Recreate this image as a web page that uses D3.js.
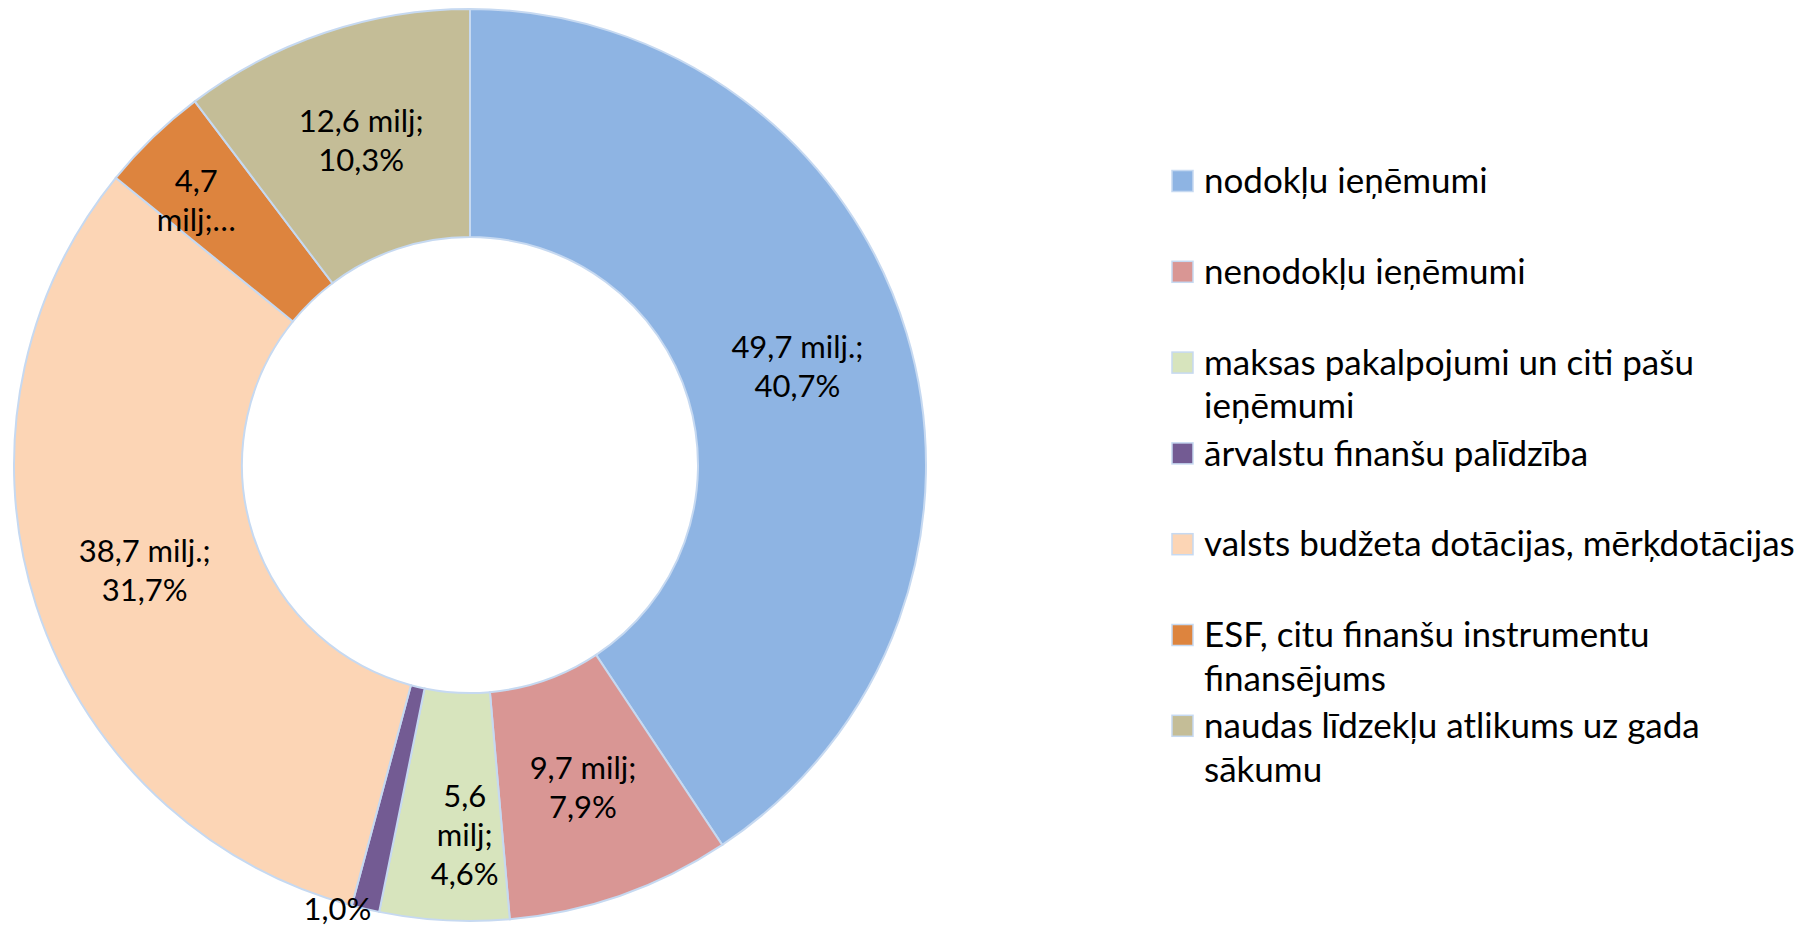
<!DOCTYPE html>
<html>
<head>
<meta charset="utf-8">
<script src="https://cdn.jsdelivr.net/npm/d3@7"></script>
<style>
  body { margin: 0; background: #fff; }
  svg text { font-family: Lato, "Open Sans", sans-serif; fill: #000; }
</style>
</head>
<body>
<div id="vis"></div>
<script>
const FRAME_WIDTH = 1810;
const FRAME_HEIGHT = 926;

// data (milj. EUR)
const categories = [
  "nodokļu ieņēmumi",
  "nenodokļu ieņēmumi",
  "maksas pakalpojumi un citi pašu ieņēmumi",
  "ārvalstu finanšu palīdzība",
  "valsts budžeta dotācijas, mērķdotācijas",
  "ESF, citu finanšu instrumentu finansējums",
  "naudas līdzekļu atlikums uz gada sākumu"
];
const values = [49.7, 9.7, 5.6, 1.2, 38.7, 4.7, 12.6];
const sliceLabels = [
  ["49,7 milj.;", "40,7%"],
  ["9,7 milj;", "7,9%"],
  ["5,6", "milj;", "4,6%"],
  ["1,0%"],
  ["38,7 milj.;", "31,7%"],
  ["4,7", "milj;…"],
  ["12,6 milj;", "10,3%"]
];
const legendLines = [
  ["nodokļu ieņēmumi"],
  ["nenodokļu ieņēmumi"],
  ["maksas pakalpojumi un citi pašu", "ieņēmumi"],
  ["ārvalstu finanšu palīdzība"],
  ["valsts budžeta dotācijas, mērķdotācijas"],
  ["ESF, citu finanšu instrumentu", "finansējums"],
  ["naudas līdzekļu atlikums uz gada", "sākumu"]
];
const colors = ["#8EB4E3", "#D99694", "#D7E4BD", "#735B93", "#FCD5B5", "#DD843E", "#C4BD97"];

const CX = 470, CY = 465;
const OUTER = 456, INNER = 228;
const BORDER = "#C6D9F1";

const svg = d3.select("#vis")
  .append("svg")
    .attr("width", FRAME_WIDTH)
    .attr("height", FRAME_HEIGHT);

const colorScale = d3.scaleOrdinal().domain(categories).range(colors);

const pie = d3.pie().sort(null).value(d => d.value);
const arcs = pie(categories.map((c, i) => ({cat: c, value: values[i], label: sliceLabels[i]})));

const arc = d3.arc().innerRadius(INNER).outerRadius(OUTER);
const edgeArc = d3.arc().innerRadius(OUTER).outerRadius(OUTER);

const g = svg.append("g").attr("transform", `translate(${CX},${CY})`);

g.selectAll("path")
  .data(arcs)
  .enter()
  .append("path")
    .attr("d", arc)
    .attr("fill", d => colorScale(d.data.cat))
    .attr("stroke", BORDER)
    .attr("stroke-width", 2);

// labels: centroid of the ring, a few nudged the way Excel placed them
const LABEL_SIZE = 31;
const LABEL_LINE = 39;
const nudge = {
  2: [14, 29],
  5: [-36, -19]
};

arcs.forEach((d, i) => {
  let [x, y] = i === 3 ? edgeArc.centroid(d) : arc.centroid(d);
  if (i === 3) x -= 28;
  if (nudge[i]) { x += nudge[i][0]; y += nudge[i][1]; }
  const lines = d.data.label;
  const t = g.append("text")
    .attr("text-anchor", "middle")
    .style("font-size", LABEL_SIZE + "px");
  lines.forEach((ln, k) => {
    t.append("tspan")
      .attr("x", x)
      .attr("y", y + (k - (lines.length - 1) / 2) * LABEL_LINE)
      .attr("dy", "0.35em")
      .text(ln);
  });
});

// legend
const LEG_X = 1172, LEG_Y = 181, LEG_STEP = 90.8, LEG_LINE = 43.5, SQ = 21;
const legend = svg.selectAll(".leg")
  .data(categories)
  .enter()
  .append("g")
    .attr("class", "leg")
    .attr("transform", (d, i) => `translate(${LEG_X},${LEG_Y + i * LEG_STEP})`);

legend.append("rect")
  .attr("x", 0)
  .attr("y", -SQ / 2)
  .attr("width", SQ)
  .attr("height", SQ)
  .attr("fill", d => colorScale(d))
  .attr("stroke", BORDER)
  .attr("stroke-width", 1.5);

legend.append("text")
  .style("font-size", "35px")
  .each(function (d, i) {
    legendLines[i].forEach((ln, k) => {
      d3.select(this).append("tspan")
        .attr("x", 32)
        .attr("y", k * LEG_LINE)
        .attr("dy", "0.35em")
        .text(ln);
    });
  });
</script>
</body>
</html>
